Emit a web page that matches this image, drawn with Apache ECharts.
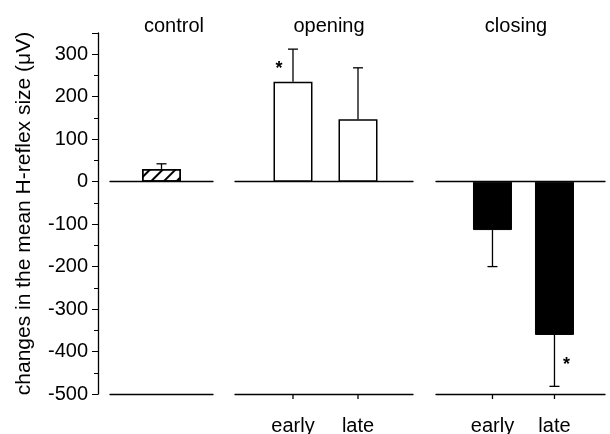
<!DOCTYPE html>
<html lang="en">
<head>
    <meta charset="UTF-8">
    <title>H-reflex</title>
    <script src="https://cdn.jsdelivr.net/npm/echarts@6.0.0/dist/echarts.min.js"></script>
    <style>
        html, body { margin: 0; padding: 0; background: #fff; }
        #viz { width: 610px; height: 434px; }
    </style>
</head>
<body>
    <div id="viz"></div>
    <script>
        // values
        const panelTitles = ['control', 'opening', 'closing'];
        const controlLabels = [''];
        const controlValues = [30];
        const controlErrors = [12];
        const controlSig = [false];

        const openingLabels = ['early', 'late'];
        const openingValues = [235, 147];
        const openingErrors = [77, 121];
        const openingSig = [true, false];

        const closingLabels = ['early', 'late'];
        const closingValues = [-114, -361];
        const closingErrors = [86, 121];
        const closingSig = [false, true];

        const yMin = -500, yMax = 350;
        const yTicks = [-500, -400, -300, -200, -100, 0, 100, 200, 300];
        const yName = 'changes in the mean H-reflex size (\u03bcV)';

        const font = 'Liberation Sans, Arial, sans-serif';
        const ink = '#000';
        const fs = 20;

        const panels = [
            { labels: controlLabels, values: controlValues, errors: controlErrors, sig: controlSig,
              left: 110, width: 103, min: -1, max: 1, titleX: 169,
              style: { color: '#fff', borderColor: ink, borderWidth: 1.5,
                       decal: { symbol: 'rect', color: ink, dashArrayX: [1, 0], dashArrayY: [2, 7], rotation: -Math.PI / 4, symbolSize: 1 } } },
            { labels: openingLabels, values: openingValues, errors: openingErrors, sig: openingSig,
              left: 235, width: 178, min: -0.892, max: 1.846, titleX: 324,
              style: { color: '#fff', borderColor: ink, borderWidth: 1.5 } },
            { labels: closingLabels, values: closingValues, errors: closingErrors, sig: closingSig,
              left: 436, width: 169, min: -0.911, max: 1.815, titleX: 511,
              style: { color: ink, borderColor: ink, borderWidth: 1 } }
        ];

        const grid = [], xAxis = [], yAxis = [], series = [], title = [];

        // error bar, significance star and the category tick on the bottom line
        const errorItem = (params, api) => {
            const x = api.value(0), v = api.value(1), e = api.value(2), s = api.value(3), t = api.value(4);
            const end = v >= 0 ? v + e : v - e;
            const p0 = api.coord([x, v]);
            const p1 = api.coord([x, end]);
            const line = { stroke: ink, lineWidth: 1.3 };
            const children = [
                { type: 'line', shape: { x1: p0[0], y1: p0[1], x2: p1[0], y2: p1[1] }, style: line },
                { type: 'line', shape: { x1: p1[0] - 5, y1: p1[1], x2: p1[0] + 5, y2: p1[1] }, style: line }
            ];
            if (t) {
                const b = api.coord([x, yMin]);
                children.push({ type: 'line', shape: { x1: b[0], y1: b[1], x2: b[0], y2: b[1] + 5 }, style: line });
            }
            if (s) {
                const side = v >= 0 ? -14 : 12;
                children.push({
                    type: 'text',
                    style: { text: '*', x: p0[0] + side, y: (p0[1] + p1[1]) / 2 + 4,
                             align: 'center', verticalAlign: 'middle',
                             font: 'bold 18px ' + font, fill: ink }
                });
            }
            return { type: 'group', children };
        };

        panels.forEach((p, k) => {
            grid.push({ left: p.left, width: p.width, top: 33, height: 361, outerBoundsMode: 'none', containLabel: false });
            title.push({
                text: panelTitles[k], left: p.titleX, top: 11, textAlign: 'center',
                textStyle: { fontFamily: font, fontSize: fs, fontWeight: 'normal', color: ink }
            });
            // zero line
            xAxis.push({
                gridIndex: k, type: 'value', min: p.min, max: p.max, position: 'bottom',
                axisLine: { onZero: true, lineStyle: { color: ink, width: 1.3 } },
                axisTick: { show: false }, axisLabel: { show: false }, splitLine: { show: false }
            });
            // bottom line with category labels
            const idx = p.labels.map((_, i) => i);
            xAxis.push({
                gridIndex: k, type: 'value', min: p.min, max: p.max, position: 'bottom',
                axisLine: { onZero: false, lineStyle: { color: ink, width: 1.3 } },
                axisTick: { show: false },
                axisLabel: { show: k > 0, customValues: idx, margin: 22,
                             formatter: v => p.labels[Math.round(v)] || '',
                             fontFamily: font, fontSize: fs, color: ink },
                splitLine: { show: false }
            });
            yAxis.push({
                gridIndex: k, type: 'value', min: yMin, max: yMax, interval: 100,
                show: k === 0, offset: 12, position: 'left',
                name: yName, nameLocation: 'middle', nameGap: 63,
                nameTextStyle: { fontFamily: font, fontSize: 21, color: ink },
                axisLine: { show: true, onZero: false, lineStyle: { color: ink, width: 1.3 } },
                axisTick: { show: true, length: 6, lineStyle: { color: ink } },
                minorTick: { show: true, splitNumber: 2, length: 4, lineStyle: { color: ink } },
                axisLabel: { margin: 10, fontFamily: font, fontSize: fs, color: ink,
                             formatter: v => (yTicks.includes(v) ? String(v) : '') },
                splitLine: { show: false }, minorSplitLine: { show: false }
            });
            series.push({
                type: 'bar', xAxisIndex: 2 * k, yAxisIndex: k, barWidth: 39,
                data: p.values.map((v, i) => [i, v]),
                itemStyle: p.style, silent: true, z: 3
            });
            series.push({
                type: 'custom', xAxisIndex: 2 * k, yAxisIndex: k, renderItem: errorItem, clip: false,
                data: p.values.map((v, i) => [i, v, p.errors[i], p.sig[i] ? 1 : 0, k > 0 ? 1 : 0]),
                silent: true, z: 2
            });
        });

        const chart = echarts.init(document.getElementById('viz'), null, { renderer: 'canvas' });
        chart.setOption({ animation: false, backgroundColor: '#fff', title, grid, xAxis, yAxis, series });
        window.onresize = () => chart.resize();
    </script>
</body>
</html>
